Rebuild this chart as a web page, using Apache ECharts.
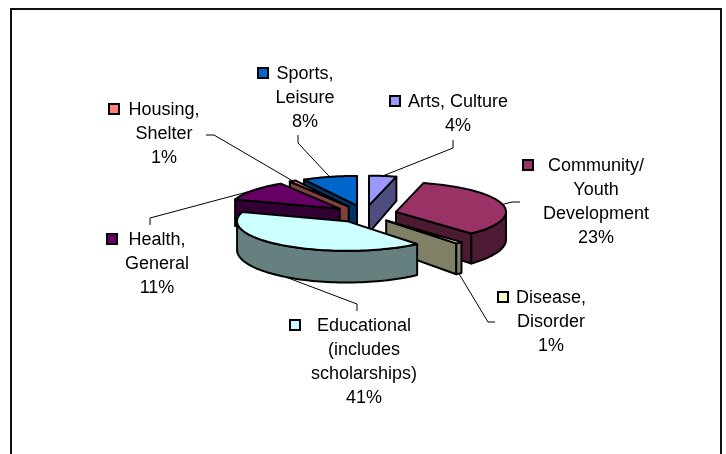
<!DOCTYPE html>
<html>
<head>
<meta charset="utf-8">
<title>Grants by category</title>
<style>
    html, body { margin: 0; padding: 0; background: #fff; }
    #chart { width: 726px; height: 454px; }
</style>
<script src="https://cdn.jsdelivr.net/npm/echarts@6/dist/echarts.min.js"></script>
</head>
<body>
<div id="chart"></div>
<script>
    // data
    const categories = ['Arts, Culture', 'Community/\nYouth\nDevelopment', 'Disease,\nDisorder', 'Educational\n(includes\nscholarships)', 'Health,\nGeneral', 'Housing,\nShelter', 'Sports,\nLeisure'];
    // share of the circle each slice really takes (the Community slice is drawn bigger than its printed label)
    const sliceShares = [4, 34, 1, 41, 11, 1, 8];
    const percentLabels = ['4%', '23%', '1%', '41%', '11%', '1%', '8%'];

    const topColors = ['#9999FF', '#993366', '#FFFFCC', '#CCFFFF', '#660066', '#FF8080', '#0066CC'];
    const sideColors = ['#4D4D80', '#4D1A33', '#808066', '#668080', '#330033', '#804040', '#003366'];

    // painter's order, back slices first
    const drawOrder = [0, 6, 5, 4, 1, 2, 3];

    // label placement: text centre x, first line y, key x, elbow and end of the leader line
    const labelX = [458, 596, 551, 364, 157, 164, 305];
    const labelY = [102, 166, 298, 326, 240, 110, 74];
    const keyX = [395, 528, 503, 295, 112, 114, 263];
    const elbows = [[453, 148], [512, 202], [488, 322], [357, 304], [150, 218], [214, 135], [298, 143]];
    const leaderEnds = [[453, 140], [520, 202], [495, 322], [357, 311], [150, 225], [206, 135], [298, 135]];

    // pie projection
    const cx = 365, cy = 214, R = 110, squash = 0.27, explode = 32;
    const rad = Math.PI / 180;
    const total = sliceShares.reduce((a, b) => a + b, 0);

    let acc = 0;
    const sliceAngles = sliceShares.map(v => {
        const start = acc / total * 360;
        acc += v;
        return [start, acc / total * 360];
    });

    function project(angle, r, mid) {
        return [
            cx + r * Math.sin(angle * rad) + explode * Math.sin(mid * rad),
            cy - squash * (r * Math.cos(angle * rad) + explode * Math.cos(mid * rad))
        ];
    }
    // slight perspective: the nearer the point, the taller the wall
    function drop(p) {
        return [p[0], p[1] + 28 + (p[1] - cy) * 0.1];
    }
    function wall(points) {
        return points.concat(points.slice().reverse().map(drop));
    }
    function face(points, fill) {
        return {
            type: 'polygon',
            silent: true,
            shape: { points: points },
            style: { fill: fill, stroke: '#000', lineWidth: 2, lineJoin: 'round' }
        };
    }

    function renderSlice(params) {
        const i = drawOrder[params.dataIndex];
        const [a0, a1] = sliceAngles[i];
        const mid = (a0 + a1) / 2;
        const apex = project(0, 0, mid);

        const rim = [];
        const steps = Math.ceil((a1 - a0) / 2);
        for (let s = 0; s <= steps; s++) {
            rim.push(a0 + (a1 - a0) * s / steps);
        }
        const rimPoints = rim.map(a => project(a, R, mid));

        const children = [];
        if (Math.sin(a0 * rad) < -0.001) {
            children.push(face(wall([apex, rimPoints[0]]), sideColors[i]));
        }
        if (Math.sin(a1 * rad) > 0.001) {
            children.push(face(wall([apex, rimPoints[rimPoints.length - 1]]), sideColors[i]));
        }
        // only the part of the rim that faces the viewer
        const front = rim.filter(a => Math.cos(a * rad) <= 0).map(a => project(a, R, mid));
        if (front.length > 1) {
            children.push(face(wall(front), sideColors[i]));
        }
        children.push(face([apex].concat(rimPoints), topColors[i]));

        // leader line starts on the rim, at the bottom of the wall for the front slices
        let anchor = project(mid, R, mid);
        if (Math.cos(mid * rad) < 0) {
            anchor = drop(anchor);
        }
        children.push({
            type: 'polyline',
            silent: true,
            shape: { points: [anchor, elbows[i], leaderEnds[i]] },
            style: { fill: null, stroke: '#000', lineWidth: 1 }
        });

        // colour key and label
        children.push({
            type: 'rect',
            silent: true,
            shape: { x: keyX[i] - 5, y: labelY[i] - 6, width: 10, height: 10 },
            style: { fill: topColors[i], stroke: '#000', lineWidth: 2 }
        });
        children.push({
            type: 'text',
            silent: true,
            style: {
                x: labelX[i],
                y: labelY[i] - 12,
                text: categories[i] + '\n' + percentLabels[i],
                fill: '#000',
                font: '18px "Liberation Sans"',
                lineHeight: 24,
                align: 'center',
                verticalAlign: 'top'
            }
        });
        return { type: 'group', children: children };
    }

    const chart = echarts.init(document.getElementById('chart'));
    chart.setOption({
        animation: false,
        backgroundColor: '#fff',
        graphic: [{
            type: 'rect',
            silent: true,
            shape: { x: 11, y: 9, width: 710, height: 470 },
            style: { fill: 'none', stroke: '#111', lineWidth: 2 }
        }],
        series: [{
            type: 'custom',
            coordinateSystem: 'none',
            renderItem: renderSlice,
            data: drawOrder.map(i => sliceShares[i])
        }]
    });
</script>
</body>
</html>
